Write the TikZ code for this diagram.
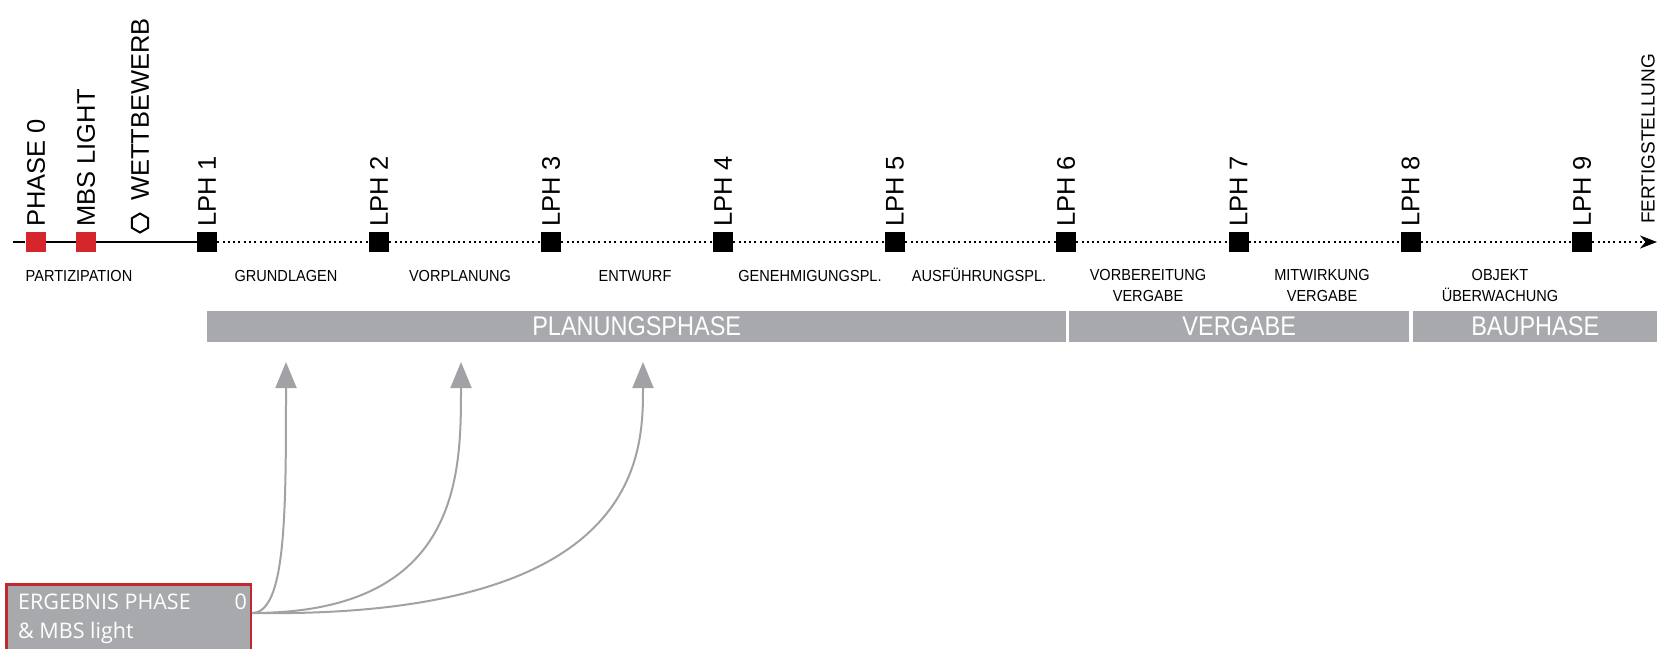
\documentclass[tikz,border=0pt]{standalone}
\usepackage{fontspec}
\setmainfont{Liberation Sans}
\newfontfamily\narrowfont[FakeStretch=0.91]{Liberation Sans}
\newfontfamily\barfont[FakeStretch=0.87]{Liberation Sans}
\newfontfamily\boxfont{Open Sans}
\usetikzlibrary{arrows.meta,shapes.geometric,calc}
\definecolor{bargray}{RGB}{167,169,172}
\definecolor{sqred}{RGB}{212,38,43}
\definecolor{boxred}{RGB}{193,39,45}
\definecolor{arrgray}{RGB}{160,162,165}
\tikzset{
  sq/.style={rectangle, fill=black, minimum size=20pt, inner sep=0pt},
  redsq/.style={sq, fill=sqred},
  vlabel/.style={rotate=90, anchor=west, inner sep=0pt, font=\fontsize{25.5}{30}\selectfont},
  endlabel/.style={rotate=90, anchor=west, inner sep=0pt, font=\fontsize{19}{23}\selectfont},
  phlabel/.style={inner sep=0pt, align=center, font=\narrowfont\fontsize{16}{21}\selectfont},
  phasebar/.style={rectangle, fill=bargray, text=white, minimum height=31pt, inner sep=0pt, anchor=north west, font=\barfont\fontsize{27}{30}\selectfont},
  solidline/.style={line width=2pt},
  dotline/.style={line width=2.3pt, dash pattern=on 2pt off 3.3pt},
  feed/.style={draw=arrgray, line width=2pt, -{Triangle[length=26pt,width=21pt]}},
  resbox/.style={draw=boxred, fill=bargray, line width=2.5pt, minimum width=244.5pt, minimum height=80pt, inner sep=0pt, anchor=north west},
  restext/.style={inner sep=0pt, text=white, font=\boxfont\fontsize{21.5}{26}\selectfont}
}
\begin{document}
\begin{tikzpicture}[x=1pt,y=-1pt]
\useasboundingbox (0,0) rectangle (1673,648);
\clip (0,0) rectangle (1673,648);

% timeline markers
\node[redsq] (p0) at (35.5,242) {};
\node[redsq] (p1) at (86,242) {};
\node[regular polygon, regular polygon sides=6, shape border rotate=30, draw, line width=2pt, minimum size=19pt, inner sep=0pt] (hex) at (140,223) {};
\foreach \i/\x in {1/207,2/379,3/551,4/723,5/895,6/1066,7/1238.5,8/1410.5,9/1582}{
  \node[sq] (l\i) at (\x,242) {};
  \node[vlabel] (lt\i) at (\x,227) {LPH \i};
}
\coordinate (lstart) at (13,242);
\coordinate (lend) at (1657,242);

\draw[solidline] (lstart) -- (p0) -- (p1) -- (l1);
\draw[dotline] (l1) -- (l2) -- (l3) -- (l4) -- (l5) -- (l6) -- (l7) -- (l8) -- (l9);
\draw[dotline, -{Stealth[length=17pt,width=13pt]}] (l9) -- (lend);

% vertical labels
\node[vlabel] (tp0) at (36,227) {PHASE 0};
\node[vlabel] (tp1) at (86,227) {MBS LIGHT};
\node[vlabel] (thex) at (140,201) {WETTBEWERB};
\node[endlabel] (tend) at (1648,224) {FERTIGSTELLUNG};

% phase names
\node[phlabel, anchor=base] (n0) at (79,281) {PARTIZIPATION};
\node[phlabel, anchor=base] (n1) at (286,281) {GRUNDLAGEN};
\node[phlabel, anchor=base] (n2) at (460,281) {VORPLANUNG};
\node[phlabel, anchor=base] (n3) at (635,281) {ENTWURF};
\node[phlabel, anchor=base] (n4) at (810,281) {GENEHMIGUNGSPL.};
\node[phlabel, anchor=base] (n5) at (979,281) {AUSFÜHRUNGSPL.};
\node[phlabel, anchor=north] (n6) at (1148,269.5) {VORBEREITUNG\\VERGABE};
\node[phlabel, anchor=north] (n7) at (1322,269.5) {MITWIRKUNG\\VERGABE};
\node[phlabel, anchor=north] (n8) at (1500,269.5) {OBJEKT\\ÜBERWACHUNG};

% phase bars
\node[phasebar, minimum width=859pt] (bplan) at (207,311) {PLANUNGSPHASE};
\node[phasebar, minimum width=340pt] (bverg) at (1069,311) {VERGABE};
\node[phasebar, minimum width=244pt] (bbau) at (1413,311) {BAUPHASE};

% result box
\node[resbox] (res) at (5,583) {};
\node[restext, anchor=base west] (r1) at ($(res.north west)+(13,26)$) {ERGEBNIS PHASE};
\node[restext, anchor=base east] (r0) at ($(res.north east)+(-5,26)$) {0};
\node[restext, anchor=base west] (r2) at ($(res.north west)+(13,55)$) {\& MBS light};

% feedback arrows
\coordinate (src) at ($(res.north east)+(0,30)$);
\coordinate (t1) at (286,362);
\coordinate (t2) at (461,362);
\coordinate (t3) at (643,362);
\draw[feed] (src) .. controls (src -| t1) and ($(t1)+(0,152)$) .. (t1);
\draw[feed] (src) .. controls (src -| t2) and ($(t2)+(0,112)$) .. (t2);
\draw[feed] (src) .. controls ($(src -| t3)+(0,6)$) and ($(t3)+(0,92)$) .. (t3);
\end{tikzpicture}
\end{document}
